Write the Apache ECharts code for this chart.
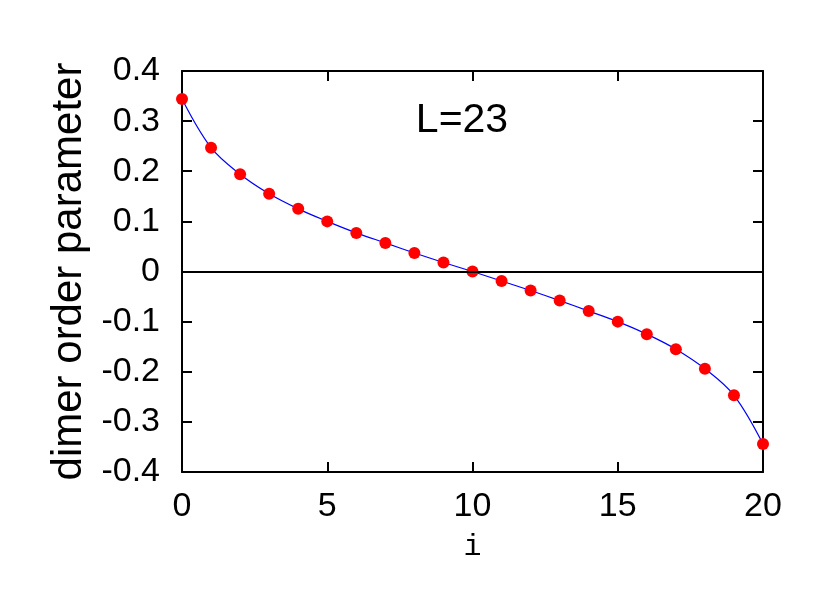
<!DOCTYPE html>
<html>
<head>
<meta charset="utf-8">
<script src="https://cdn.jsdelivr.net/npm/echarts@6/dist/echarts.min.js"></script>
<style>
  html, body { margin: 0; padding: 0; background: #fff; }
  #chart { width: 831px; height: 615px; }
</style>
</head>
<body>
<div id="chart"></div>
<script>
// site index i along the chain
const sites = [0, 1, 2, 3, 4, 5, 6, 7, 8, 9, 10, 11, 12, 13, 14, 15, 16, 17, 18, 19, 20]
// dimer order parameter
const dimer = [0.344, 0.247, 0.194, 0.155, 0.125, 0.100, 0.077, 0.057, 0.037, 0.018, 0.0,
  -0.019, -0.038, -0.058, -0.079, -0.100, -0.125, -0.155, -0.194, -0.247, -0.344]
const label = 'L=23'

const points = sites.map((x, k) => [x, dimer[k]])

const font = 'Liberation Sans'
const axisLine = { onZero: false, lineStyle: { color: '#000', width: 2 } }
const tick = { inside: true, length: 10, lineStyle: { color: '#000', width: 2 } }

const chart = echarts.init(document.getElementById('chart'))

chart.setOption({
  animation: false,
  grid: { left: 182, top: 71, right: 68, bottom: 143 },
  xAxis: [{
    type: 'value',
    min: 0,
    max: 20,
    interval: 5,
    name: 'i',
    nameLocation: 'middle',
    nameGap: 60,
    nameTextStyle: { fontFamily: 'Liberation Mono', fontSize: 30, color: '#000' },
    axisLine,
    axisTick: tick,
    axisLabel: { fontFamily: font, fontSize: 34, color: '#000', margin: 18 },
    splitLine: { show: false }
  }, {
    type: 'value',
    position: 'top',
    min: 0,
    max: 20,
    interval: 5,
    axisLine,
    axisTick: tick,
    axisLabel: { show: false },
    splitLine: { show: false }
  }],
  yAxis: [{
    type: 'value',
    min: -0.4,
    max: 0.4,
    interval: 0.1,
    name: 'dimer order parameter',
    nameLocation: 'middle',
    nameGap: 88,
    nameRotate: 90,
    nameTextStyle: { fontFamily: font, fontSize: 42, color: '#000' },
    axisLine,
    axisTick: tick,
    axisLabel: {
      fontFamily: font,
      fontSize: 34,
      color: '#000',
      margin: 22,
      formatter: v => String(Math.round(v * 10) / 10)
    },
    splitLine: { show: false }
  }, {
    type: 'value',
    position: 'right',
    min: -0.4,
    max: 0.4,
    interval: 0.1,
    axisLine,
    axisTick: tick,
    axisLabel: { show: false },
    splitLine: { show: false }
  }],
  graphic: [{
    type: 'text',
    x: 462,
    y: 121,
    style: {
      text: label,
      fontFamily: font,
      fontSize: 41,
      fill: '#000',
      textAlign: 'center',
      textVerticalAlign: 'middle'
    }
  }],
  series: [{
    type: 'line',
    data: points,
    smooth: 0.35,
    showSymbol: false,
    lineStyle: { color: '#0000ff', width: 1.2 },
    z: 2,
    markLine: {
      silent: true,
      symbol: 'none',
      label: { show: false },
      lineStyle: { color: '#000', width: 2, type: 'solid' },
      data: [{ yAxis: 0 }]
    }
  }, {
    type: 'scatter',
    data: points,
    symbol: 'circle',
    symbolSize: 12,
    itemStyle: { color: '#ff0000', opacity: 1 },
    z: 3
  }]
})
</script>
</body>
</html>
